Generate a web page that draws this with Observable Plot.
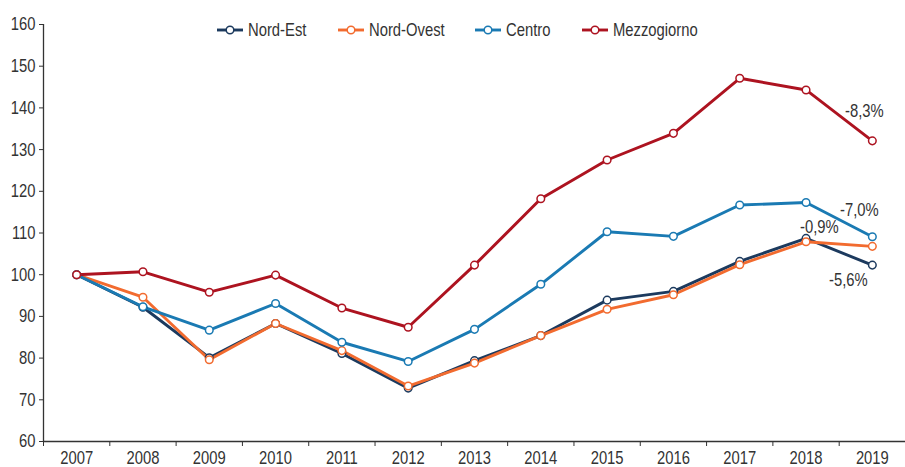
<!DOCTYPE html>
<html>
<head>
<meta charset="utf-8">
<script src="https://cdn.jsdelivr.net/npm/d3@7"></script>
<script src="https://cdn.jsdelivr.net/npm/@observablehq/plot@0.6"></script>
<style>
  html, body { margin: 0; padding: 0; background: #fff; }
  #wrap { position: relative; width: 905px; height: 467px; font-family: 'Liberation Sans', Arial, sans-serif; color: #333; }
  #legend { position: absolute; top: 18px; left: 217px; }
</style>
</head>
<body>
<div id="wrap"></div>
<script>
const years = [2007, 2008, 2009, 2010, 2011, 2012, 2013, 2014, 2015, 2016, 2017, 2018, 2019];
const seriesNames = ["Nord-Est", "Nord-Ovest", "Centro", "Mezzogiorno"];
const seriesColors = ["#1c3a5e", "#f26b2f", "#1a7ab3", "#ad1320"];
const nordEst     = [100, 92.2, 80.1, 88.3, 81.1, 72.8, 79.4, 85.4, 93.9, 96.0, 103.2, 108.7, 102.3];
const nordOvest   = [100, 94.6, 79.6, 88.3, 81.8, 73.3, 78.8, 85.4, 91.7, 95.2, 102.4, 107.9, 106.8];
const centro      = [100, 92.3, 86.7, 93.1, 83.8, 79.2, 86.9, 97.7, 110.3, 109.2, 116.7, 117.3, 109.1];
const mezzogiorno = [100, 100.7, 95.8, 99.9, 92.0, 87.4, 102.3, 118.2, 127.5, 133.9, 147.1, 144.3, 132.1];
const yTicks = [60, 70, 80, 90, 100, 110, 120, 130, 140, 150, 160];
const annotationSeries = ["Mezzogiorno", "Centro", "Nord-Ovest", "Nord-Est"];
const annotationLabels = ["-8,3%", "-7,0%", "-0,9%", "-5,6%"];

const FONT = "'Liberation Sans', Arial, sans-serif";
const SQUEEZE = 0.8;

const valuesBySeries = [nordEst, nordOvest, centro, mezzogiorno];
const data = seriesNames.flatMap((s, i) => years.map((y, j) => ({series: s, year: y, value: valuesBySeries[i][j]})));
const boundaries = [...years.map(y => y - 0.5), years[years.length - 1] + 0.5];
const lastYear = years[years.length - 1];
const lastValue = s => valuesBySeries[seriesNames.indexOf(s)][years.length - 1];
const annOffsets = [[-8, -30], [-13, -27], [-53, -19], [-24, 15]];

const annMarks = annotationLabels.map((t, i) => Plot.text([{x: lastYear, y: lastValue(annotationSeries[i]), t}], {
  x: "x", y: "y", text: "t", dx: annOffsets[i][0], dy: annOffsets[i][1], fill: "#333", fontSize: 18.5, textAnchor: "middle"
}));

const chart = Plot.plot({
  width: 905,
  height: 467,
  marginLeft: 43,
  marginRight: 0,
  marginTop: 24,
  marginBottom: 26,
  style: {fontFamily: FONT, fontSize: "18.5px", color: "#333", background: "#fff"},
  x: {domain: [boundaries[0], boundaries[boundaries.length - 1]]},
  y: {domain: [60, 160]},
  color: {domain: seriesNames, range: seriesColors},
  marks: [
    Plot.axisY({ticks: yTicks, tickSize: 4, tickPadding: 4, tickFormat: d => String(d), label: null, fontSize: 18.5, stroke: "#333"}),
    Plot.axisX({ticks: boundaries, tickSize: 5, tickFormat: () => "", label: null, stroke: "#333"}),
    Plot.axisX({ticks: years, tickSize: 0, tickPadding: 9, tickFormat: d => String(d), label: null, fontSize: 18.5}),
    Plot.ruleX([boundaries[0]], {y1: 60, y2: 160, stroke: "#333", strokeWidth: 1.3}),
    Plot.ruleY([60], {stroke: "#333", strokeWidth: 1.3}),
    Plot.line(data, {x: "year", y: "value", z: "series", stroke: "series", strokeWidth: 2.9}),
    Plot.dot(data, {x: "year", y: "value", stroke: "series", fill: "white", r: 3.8, strokeWidth: 1.5}),
    ...annMarks
  ]
});
const wrap = document.getElementById("wrap");
wrap.appendChild(chart);

// Legend (drawn as a small SVG overlay)
const itemX = [0, 121, 258, 365];
const legend = d3.select(wrap).append("svg")
  .attr("id", "legend").attr("width", 620).attr("height", 26)
  .style("font-family", FONT).style("font-size", "18.5px");
seriesNames.forEach((s, i) => {
  const g = legend.append("g").attr("transform", `translate(${itemX[i]},12)`);
  g.append("line").attr("x1", 0).attr("x2", 26).attr("y1", 0).attr("y2", 0)
    .attr("stroke", seriesColors[i]).attr("stroke-width", 2.9);
  g.append("circle").attr("cx", 13).attr("cy", 0).attr("r", 3.8)
    .attr("fill", "white").attr("stroke", seriesColors[i]).attr("stroke-width", 1.5);
  g.append("text").attr("x", 31).attr("y", 0).attr("dy", "0.35em").attr("fill", "#333").text(s);
});

// Condense all texts to mimic the narrow font of the original
wrap.querySelectorAll("svg text").forEach(el => {
  const len = el.getComputedTextLength();
  if (len > 0) {
    el.setAttribute("textLength", (len * SQUEEZE).toFixed(2));
    el.setAttribute("lengthAdjust", "spacingAndGlyphs");
  }
});
</script>
</body>
</html>
